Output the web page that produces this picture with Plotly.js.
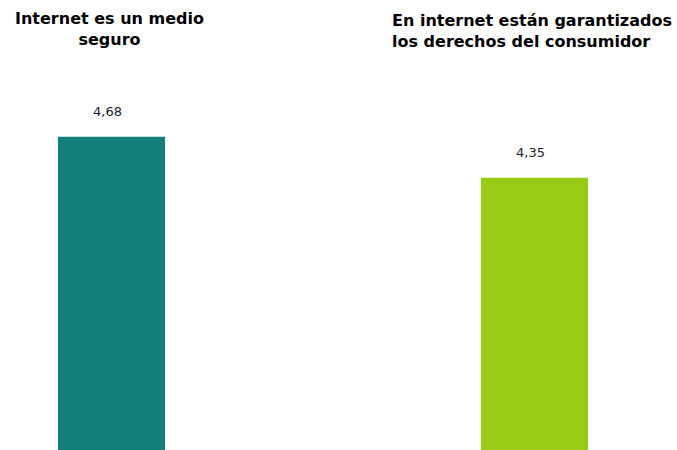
<!DOCTYPE html>
<html>
<head>
<meta charset="utf-8">
<script src="https://cdn.plot.ly/plotly-3.0.1.min.js"></script>
<style>html,body{margin:0;padding:0;background:#fff;}#chart{width:677px;height:450px;}</style>
</head>
<body>
<div id="chart"></div>
<script>
var categories = ["Internet es un medio seguro", "En internet están garantizados los derechos del consumidor"];
var values = [4.68, 4.35];
var valueLabels = ["4,68", "4,35"];
var colors = ["#137e7a", "#99ca15"];

var trace = {
  type: "bar",
  x: [0, 1],
  y: values,
  marker: {color: colors, line: {width: 0}},
  width: 0.253,
  hoverinfo: "none",
  cliponaxis: true
};

var annotations = values.map(function (v, i) {
  return {
    x: i, y: v, xref: "x", yref: "y",
    text: valueLabels[i],
    showarrow: false,
    yanchor: "bottom",
    yshift: 16,
    xshift: -4,
    font: {family: "DejaVu Sans, Verdana, sans-serif", size: 13, color: "#1c1c30"}
  };
});

annotations.push({
  xref: "paper", yref: "paper",
  x: 109 / 677, y: 1 - 7 / 450,
  xanchor: "center", yanchor: "top", align: "center",
  text: "<b>Internet es un medio<br>seguro</b>",
  showarrow: false,
  font: {family: "DejaVu Sans, Verdana, sans-serif", size: 16, color: "#000"}
});
annotations.push({
  xref: "paper", yref: "paper",
  x: 390 / 677, y: 1 - 9 / 450,
  xanchor: "left", yanchor: "top", align: "left",
  text: "<b>En internet están garantizados<br>los derechos del consumidor</b>",
  showarrow: false,
  font: {family: "DejaVu Sans, Verdana, sans-serif", size: 16, color: "#000"}
});

var layout = {
  width: 677, height: 450,
  margin: {l: 0, r: 0, t: 0, b: 0, pad: 0},
  paper_bgcolor: "#fff", plot_bgcolor: "#fff",
  showlegend: false,
  xaxis: {range: [-0.2636, 1.337], visible: false, fixedrange: true},
  yaxis: {range: [2.16, 5.78], visible: false, fixedrange: true},
  annotations: annotations
};

Plotly.newPlot("chart", [trace], layout, {displayModeBar: false, staticPlot: true});
</script>
</body>
</html>
